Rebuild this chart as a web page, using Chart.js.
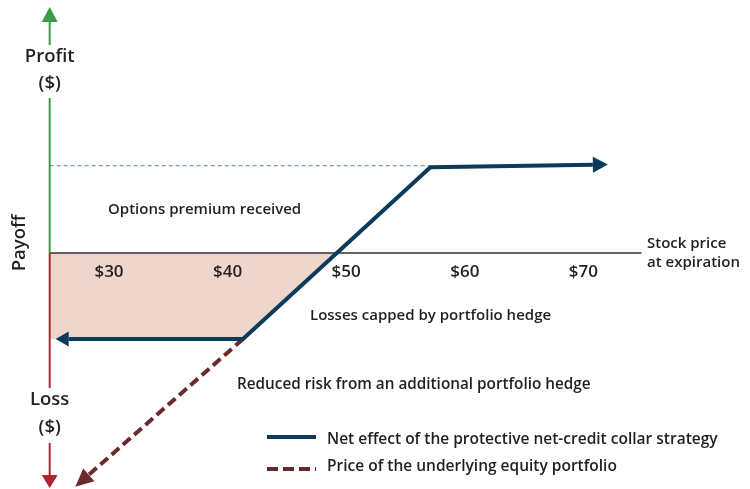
<!DOCTYPE html>
<html>
<head>
<meta charset="utf-8">
<title>Net-credit collar payoff</title>
<script src="https://cdn.jsdelivr.net/npm/chart.js@4.4.1/dist/chart.umd.min.js"></script>
<style>
    html, body { margin: 0; padding: 0; background: #fff; }
    #wrap { width: 750px; height: 489px; }
</style>
</head>
<body>
<div id="wrap"><canvas id="payoffChart" width="750" height="489"></canvas></div>
<script>
// stock price at expiration ($) -> payoff ($)
const tickValues = [30, 40, 50, 60, 70];
const collarPrices = [26.6, 41.3, 57.1, 70.8];
const collarPayoff = [-7.25, -7.25, 7.23, 7.44];
const premiumPrices = [25, 57.1];
const premiumPayoff = [7.36, 7.36];
const portfolioPrices = [41.3, 28.3];
const portfolioPayoff = [-7.25, -18.7];
const lossPrices = [25, 41.3, 49.21];
const lossPayoff = [-7.25, -7.25, 0];
const axisX = 25;          // payoff axis sits at this price
const axisEndX = 74.9;     // stock price axis ends here
const profitArrowY = [19.48, 20.74];   // arrow base, tip
const lossArrowY = [-18.72, -19.81];

const FONT = '"Open Sans", "DejaVu Sans", sans-serif';
const TEXT = "#231f20";
const NAVY = "#0b3a5a";
const MAROON = "#6a2a2c";
const GREEN = "#3c9a47";
const RED = "#b0242c";

const pts = (xs, ys) => xs.map((x, i) => ({ x: x, y: ys[i] }));

function arrowHead(ctx, base, tip, half, color) {
    const dx = tip.x - base.x, dy = tip.y - base.y;
    const d = Math.hypot(dx, dy);
    const nx = -dy / d, ny = dx / d;
    ctx.save();
    ctx.fillStyle = color;
    ctx.beginPath();
    ctx.moveTo(tip.x, tip.y);
    ctx.lineTo(base.x + nx * half, base.y + ny * half);
    ctx.lineTo(base.x - nx * half, base.y - ny * half);
    ctx.closePath();
    ctx.fill();
    ctx.restore();
}

// arrow at the end of a dataset, pointing along its last segment
function endArrow(chart, idx, len, half, color) {
    const meta = chart.getDatasetMeta(idx).data;
    const a = meta[meta.length - 2], b = meta[meta.length - 1];
    const dx = b.x - a.x, dy = b.y - a.y, d = Math.hypot(dx, dy);
    arrowHead(chart.ctx, b, { x: b.x + dx / d * len, y: b.y + dy / d * len }, half, color);
}

function label(ctx, text, x, y, size, align) {
    ctx.font = "600 " + size + "px " + FONT;
    ctx.fillStyle = TEXT;
    ctx.textAlign = align || "left";
    ctx.textBaseline = "middle";
    ctx.fillText(text, x, y);
}

const decor = {
    id: "decor",
    afterDatasetDraw(chart, args) {
        if (args.index !== 3) return;
        // axes go over the shaded loss area but under the strategy lines
        const ctx = chart.ctx, sx = chart.scales.x, sy = chart.scales.y;
        const x0 = sx.getPixelForValue(axisX), y0 = sy.getPixelForValue(0);
        ctx.save();
        ctx.lineWidth = 1.3;
        ctx.strokeStyle = "#333";
        ctx.beginPath();
        ctx.moveTo(x0, y0);
        ctx.lineTo(sx.getPixelForValue(axisEndX), y0);
        ctx.stroke();
        ctx.lineWidth = 2;
        ctx.strokeStyle = GREEN;
        ctx.beginPath();
        ctx.moveTo(x0, y0);
        ctx.lineTo(x0, sy.getPixelForValue(profitArrowY[0]));
        ctx.stroke();
        ctx.strokeStyle = RED;
        ctx.beginPath();
        ctx.moveTo(x0, y0);
        ctx.lineTo(x0, sy.getPixelForValue(lossArrowY[0]));
        ctx.stroke();
        ctx.restore();
        arrowHead(ctx, { x: x0, y: sy.getPixelForValue(profitArrowY[0]) },
            { x: x0, y: sy.getPixelForValue(profitArrowY[1]) }, 8, GREEN);
        arrowHead(ctx, { x: x0, y: sy.getPixelForValue(lossArrowY[0]) },
            { x: x0, y: sy.getPixelForValue(lossArrowY[1]) }, 8, RED);

        // gaps in the payoff axis for its labels
        ctx.fillStyle = "#fff";
        ctx.fillRect(x0 - 3, 45, 6, 53);
        ctx.fillRect(x0 - 3, 388, 6, 55);
        label(ctx, "Profit", x0, 57, 18.5, "center");
        label(ctx, "($)", x0, 84, 18.5, "center");
        label(ctx, "Loss", x0, 400, 18.5, "center");
        label(ctx, "($)", x0, 428, 18.5, "center");

        // stock price tick labels
        tickValues.forEach((v) => {
            label(ctx, "$" + v, sx.getPixelForValue(v), y0 + 19, 17, "center");
        });
    },
    afterDatasetsDraw(chart) {
        const ctx = chart.ctx;
        const first = chart.getDatasetMeta(0).data[0];
        endArrow(chart, 0, 15, 8, NAVY);
        arrowHead(ctx, first, { x: first.x - 13, y: first.y }, 7.5, NAVY);
        endArrow(chart, 2, 18, 8.5, MAROON);

        ctx.save();
        ctx.translate(20, 243);
        ctx.rotate(-Math.PI / 2);
        label(ctx, "Payoff", 0, 0, 18.5, "center");
        ctx.restore();

        label(ctx, "Options premium received", 108, 210, 15);
        label(ctx, "Losses capped by portfolio hedge", 310, 316, 15);
        label(ctx, "Reduced risk from an additional portfolio hedge", 237, 385, 15.3);
        label(ctx, "Stock price", 647, 244, 15);
        label(ctx, "at expiration", 647, 263, 15);

        // legend
        const ds = chart.data.datasets;
        ctx.save();
        ctx.lineWidth = 4;
        ctx.strokeStyle = NAVY;
        ctx.beginPath();
        ctx.moveTo(267, 437);
        ctx.lineTo(316, 437);
        ctx.stroke();
        ctx.strokeStyle = MAROON;
        ctx.setLineDash([11, 5]);
        ctx.beginPath();
        ctx.moveTo(267, 469);
        ctx.lineTo(316, 469);
        ctx.stroke();
        ctx.restore();
        label(ctx, ds[0].label, 327, 440, 15.5);
        label(ctx, ds[2].label, 327, 467, 15.5);
    }
};

new Chart(document.getElementById("payoffChart"), {
    type: "line",
    data: {
        datasets: [
            {
                label: "Net effect of the protective net-credit collar strategy",
                data: pts(collarPrices, collarPayoff),
                borderColor: NAVY,
                borderWidth: 4,
                pointRadius: 0,
                fill: false,
            },
            {
                label: "Options premium received",
                data: pts(premiumPrices, premiumPayoff),
                borderColor: "#4a86c5",
                borderWidth: 1,
                borderDash: [4, 3],
                pointRadius: 0,
                fill: false,
            },
            {
                label: "Price of the underlying equity portfolio",
                data: pts(portfolioPrices, portfolioPayoff),
                borderColor: MAROON,
                borderWidth: 4,
                borderDash: [10, 5],
                pointRadius: 0,
                fill: false,
            },
            {
                label: "Losses",
                data: pts(lossPrices, lossPayoff),
                borderWidth: 0,
                borderColor: "rgba(0,0,0,0)",
                backgroundColor: "#eed6cd",
                pointRadius: 0,
                fill: "origin",
            },
        ],
    },
    options: {
        responsive: false,
        animation: false,
        layout: { padding: 0 },
        plugins: {
            legend: { display: false },
            tooltip: { enabled: false },
        },
        scales: {
            x: {
                type: "linear",
                min: 20.81,
                max: 84.05,
                display: false,
            },
            y: {
                type: "linear",
                min: -19.9,
                max: 21.33,
                display: false,
            },
        },
    },
    plugins: [decor],
});
</script>
</body>
</html>
